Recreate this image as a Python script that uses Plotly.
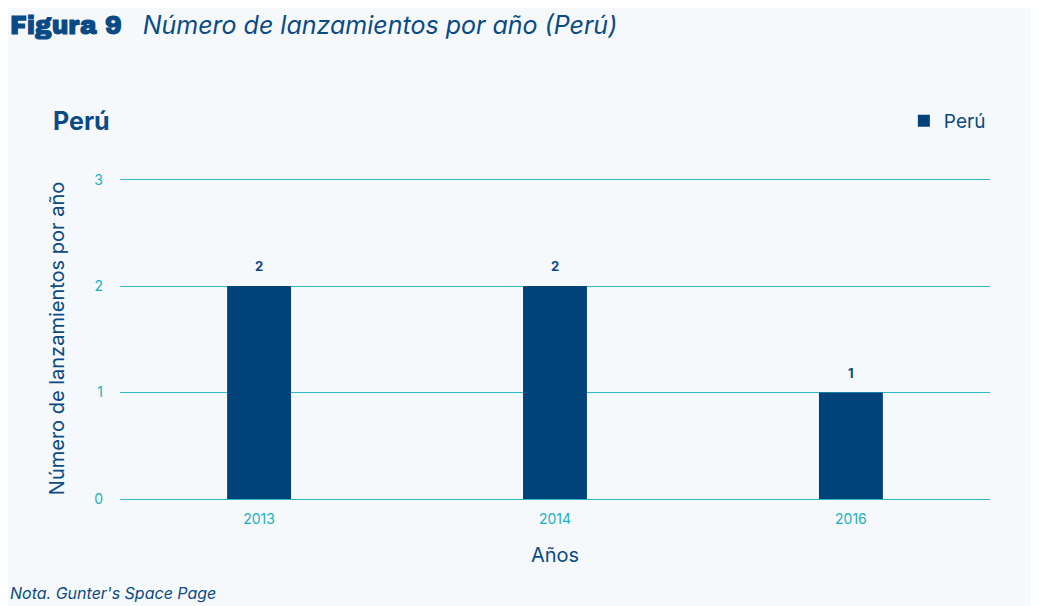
import plotly.graph_objects as go

years = ["2013", "2014", "2016"]
launches = [2, 2, 1]
series_name = "Perú"

BG = "#F5F9FC"
DARK = "#00427A"
CYAN = "#2BB8C8"
TICK = "#1AAFC3"
TXT = "#0B4A85"

L, R, T, B = 112, 57, 170, 115
PW, PH = 1039 - L - R, 606 - T - B

fig = go.Figure()
fig.add_trace(go.Bar(
    x=years, y=launches, name=series_name,
    marker=dict(color=DARK, line=dict(width=0)),
    width=0.216,
    showlegend=True,
))
for i, yv in enumerate(launches):
    fig.add_annotation(x=i, y=yv, yshift=20, text=f"<b>{yv}</b>", showarrow=False,
                       font=dict(size=13, color=TXT), xref="x", yref="y")

fig.update_layout(
    width=1039, height=606,
    paper_bgcolor=BG, plot_bgcolor=BG,
    margin=dict(l=L, r=R, t=T, b=B),
    font=dict(family="Inter", color=TXT),
    showlegend=True,
    legend=dict(x=0.901, y=1 + (T - 113) / PH, xanchor="left", yanchor="middle",
                orientation="h", font=dict(size=19, color=TXT),
                bgcolor="rgba(0,0,0,0)"),
    xaxis=dict(type="category", range=[-0.47, 2.47], showgrid=False,
               tickfont=dict(size=14, color=TICK), ticks="", ticklabelstandoff=10,
               title=dict(text="Años", font=dict(size=20, color=TXT), standoff=21),
               showline=False, zeroline=False),
    yaxis=dict(range=[0, 3.015], tickvals=[0, 1, 2, 3], showgrid=True, gridcolor=CYAN, gridwidth=1.3,
               zeroline=True, zerolinecolor=CYAN, zerolinewidth=1.3,
               tickfont=dict(size=14, color=TICK), ticks="", ticklabelstandoff=16,
               title=dict(text="Número de lanzamientos por año", font=dict(size=20, color=TXT), standoff=24)),
)

fig.add_annotation(xref="paper", yref="paper", x=(43 - L) / PW, y=1 + (T - 113) / PH,
                   xanchor="left", yanchor="middle",
                   text="<b>Perú</b>", showarrow=False, font=dict(size=25, color=TXT))
fig.add_annotation(xref="paper", yref="paper", x=(0 - L) / PW, y=1 + (T - 17) / PH,
                   xanchor="left", yanchor="middle",
                   text="<span style='font-family:Archivo Black, Inter; font-weight:900'>Figura 9</span>   <i>Número de lanzamientos por año (Perú)</i>",
                   showarrow=False, font=dict(size=25, color=TXT, family="Inter"))
fig.add_annotation(xref="paper", yref="paper", x=(0 - L) / PW, y=-(585 - (T + PH)) / PH,
                   xanchor="left", yanchor="middle",
                   text="<i>Nota. Gunter's Space Page</i>", showarrow=False, font=dict(size=16, color=TXT))

fig.write_html("out.html")
